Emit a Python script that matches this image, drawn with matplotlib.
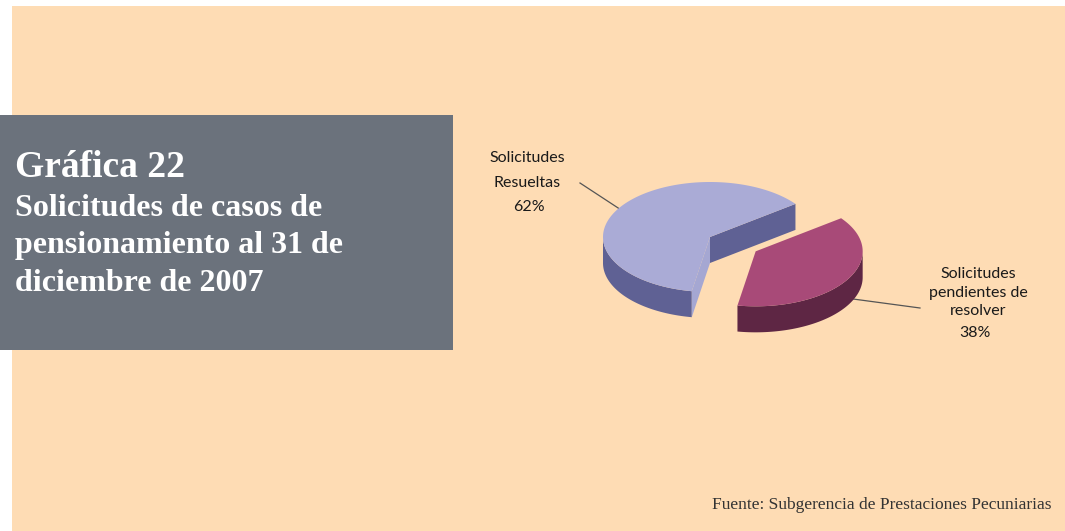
import numpy as np
import matplotlib.pyplot as plt
from matplotlib.patches import Polygon, Rectangle

# Data
categories = [["Solicitudes", "Resueltas"], ["Solicitudes", "pendientes de", "resolver"]]
shares = [62, 38]
pct_labels = ["62%", "38%"]

title = "Gráfica 22"
subtitle = ["Solicitudes de casos de", "pensionamiento al 31 de", "diciembre de 2007"]
source = "Fuente: Subgerencia de Prestaciones Pecuniarias"

# Styles
BG = "#fedcb4"
BOX = "#6b727c"
top_colors = ["#aaabd6", "#a84a78"]
side_colors = ["#5f6194", "#5e2644"]
end_face_colors = ["#a5a7d2", "#8a3a60"]
explode = [0.0, 0.5]
start_angle = 37.0

W, H = 1065, 531
fig = plt.figure(figsize=(W / 100, H / 100), dpi=100)
fig.patch.set_facecolor("white")
ax = fig.add_axes([0, 0, 1, 1])
ax.set_xlim(0, W)
ax.set_ylim(H, 0)
ax.axis("off")

ax.add_patch(Rectangle((12, 6), W - 12, H - 6, fc=BG, ec="none", zorder=0))
ax.add_patch(Rectangle((0, 115), 453, 235, fc=BOX, ec="none", zorder=1))

# Title block
ax.text(15, 177, title, family="Liberation Serif", weight="bold", fontsize=27,
        color="white", va="baseline", ha="left", zorder=3)
for k, line in enumerate(subtitle):
    ax.text(15, 216 + 37.5 * k, line, family="Liberation Serif", weight="bold",
            fontsize=23, color="white", va="baseline", ha="left", zorder=3)

ax.text(1051, 509, source, family="Liberation Serif", fontsize=12.5,
        color="#333333", va="baseline", ha="right", zorder=3)

# 3D pie geometry (pixel units)
cx, cy, rx, ry, depth = 710, 237, 107, 55, 26


def rim(ox, oy, ang, dz=0.0):
    t = np.radians(ang)
    return np.column_stack([ox + rx * np.cos(t), oy - ry * np.sin(t) + dz])


total = float(sum(shares))
bounds = np.concatenate([[0], np.cumsum(shares)]) / total * 360 + start_angle

anchors = []
for i in range(len(shares)):
    a0, a1 = bounds[i], bounds[i + 1]
    mid = 0.5 * (a0 + a1)
    ox = cx + explode[i] * rx * np.cos(np.radians(mid))
    oy = cy - explode[i] * ry * np.sin(np.radians(mid))
    z = 5 + i * 5

    # outer wall, only the front half (180..360 deg) faces the viewer
    for k in (-1, 0, 1):
        lo = max(a0, 180 + 360 * k)
        hi = min(a1, 360 + 360 * k)
        if hi > lo:
            angs = np.linspace(lo, hi, 120)
            upper = rim(ox, oy, angs)
            lower = rim(ox, oy, angs[::-1], depth)
            ax.add_patch(Polygon(np.vstack([upper, lower]), closed=True,
                                 fc=side_colors[i], ec="none", zorder=z))

    # radial cut faces
    for ang, normal, col in ((a0, a0 - 90, side_colors[i]),
                             (a1, a1 + 90, end_face_colors[i])):
        if np.sin(np.radians(normal)) < 0:
            e = rim(ox, oy, np.array([ang]))[0]
            quad = [(ox, oy), tuple(e), (e[0], e[1] + depth), (ox, oy + depth)]
            ax.add_patch(Polygon(quad, closed=True, fc=col, ec="none", zorder=z + 1))

    # top face
    angs = np.linspace(a0, a1, 240)
    top = np.vstack([[ox, oy], rim(ox, oy, angs)])
    ax.add_patch(Polygon(top, closed=True, fc=top_colors[i], ec="none", zorder=z + 2))

    dz = 0.7 * depth if np.sin(np.radians(mid)) < 0 else 0.0
    anchors.append(rim(ox, oy, np.array([mid]), dz)[0])

# Labels with leader lines
label_font = dict(family="Lato", fontsize=11.5, color="#1a1a1a", zorder=20)
label_x = [527, 978]
label_rows = [[158, 183], [274, 293, 311]]
pct_pos = [(529, 207), (975, 333)]
leader_ends = [(580, 183), (920, 308)]

for i in range(len(shares)):
    for text, y in zip(categories[i], label_rows[i]):
        ax.text(label_x[i], y, text, ha="center", va="center", **label_font)
    ax.text(*pct_pos[i], pct_labels[i], ha="center", va="center", **label_font)
    ax.plot([leader_ends[i][0], anchors[i][0]], [leader_ends[i][1], anchors[i][1]],
            color="#555555", lw=0.9, zorder=4)

fig.savefig("out.png", dpi=100, facecolor=fig.get_facecolor())
